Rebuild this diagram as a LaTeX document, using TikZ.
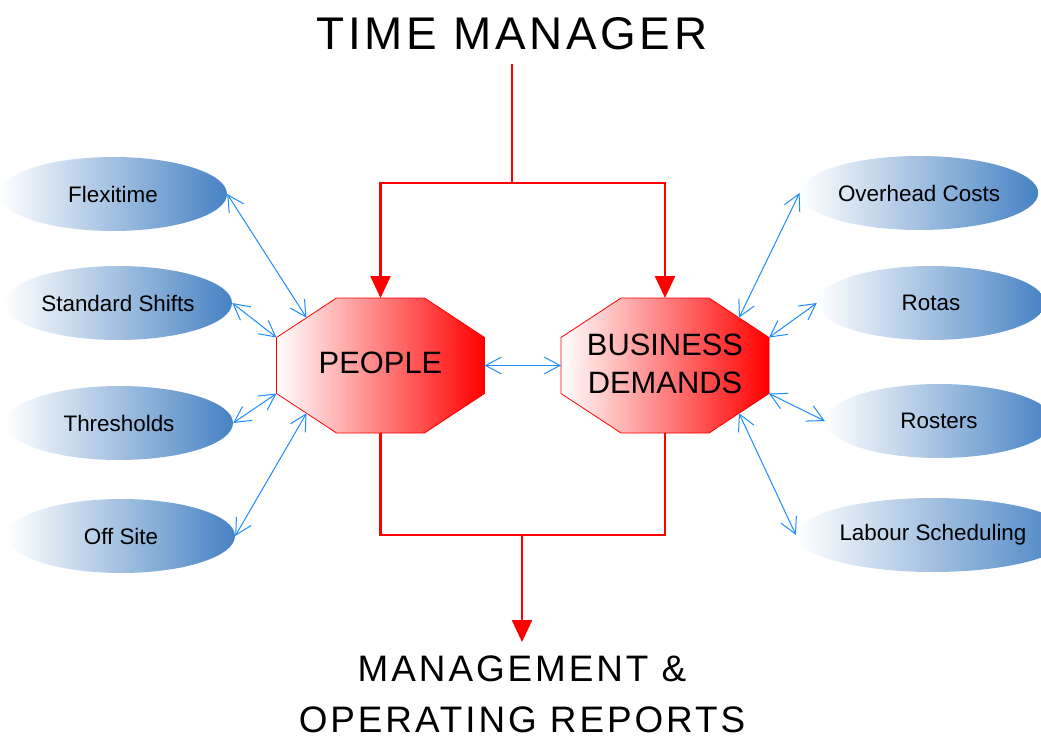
\documentclass[tikz,border=0pt]{standalone}
\usepackage{fontspec}
\setmainfont{Liberation Sans}
\newfontfamily\capsfont[LetterSpace=8]{Liberation Sans}
\usetikzlibrary{calc,shapes.geometric,arrows.meta}
\definecolor{ellblue}{RGB}{70,130,195}
\definecolor{linkblue}{RGB}{30,140,255}

\begin{document}
\begin{tikzpicture}[x=1bp,y=-1bp,
  redline/.style={red,line width=2.5bp,line join=miter},
  feed/.style={redline,-{Triangle[length=22bp,width=20bp]}},
  link/.style={linkblue,line width=1bp,{Straight Barb[length=16bp,width=17bp]}-{Straight Barb[length=16bp,width=17bp]}},
  topic/.style={ellipse,minimum width=228bp,minimum height=74bp,left color=white,right color=ellblue,font=\fontsize{22.5}{27}\selectfont},
  octo/.style={font=\fontsize{31}{38}\selectfont,align=center},
  banner/.style={font=\capsfont\fontsize{46}{52}\selectfont,inner sep=14bp,align=center}]
\useasboundingbox (0,0) rectangle (1041,738);
\def\OW{104};\def\OH{67.5};\def\OT{44};\def\OS{28};
\foreach \o/\cx in {pe/380.5,bd/665}{
\begin{scope}[shift={(\cx,365.5)}]
\shadedraw[draw=red,line width=.8bp,left color=white,middle color=red!45,right color=red]
  (-\OT,-\OH)--(\OT,-\OH)--(\OW,-\OS)--(\OW,\OS)--(\OT,\OH)--(-\OT,\OH)--(-\OW,\OS)--(-\OW,-\OS)--cycle;
\coordinate (\o-n) at (0,-\OH);
\coordinate (\o-s) at (0,\OH);
\coordinate (\o-e) at (\OW,0);
\coordinate (\o-w) at (-\OW,0);
\coordinate (\o-en) at (\OW,-\OS);
\coordinate (\o-es) at (\OW,\OS);
\coordinate (\o-wn) at (-\OW,-\OS);
\coordinate (\o-ws) at (-\OW,\OS);
\coordinate (\o-ne) at ($(\OT,-\OH)!.5!(\OW,-\OS)$);
\coordinate (\o-nw) at ($(-\OT,-\OH)!.5!(-\OW,-\OS)$);
\coordinate (\o-se) at ($(\OT,\OH)!.5!(\OW,\OS)$);
\coordinate (\o-sw) at ($(-\OT,\OH)!.5!(-\OW,\OS)$);
\end{scope}}
\node[octo] (people) at (380.5,363) {PEOPLE};
\node[octo] (business) at (665,364) {BUSINESS\\DEMANDS};

\node[topic] (flexi) at (113,194) {Flexitime};
\node[topic] (shifts) at (118,303) {Standard Shifts};
\node[topic] (thresh) at (119,423) {Thresholds};
\node[topic] (offsite) at (121,536) {Off Site};
\node[topic] (overhead) at (919,193) {Overhead Costs};
\node[topic] (rotas) at (931,303) {Rotas};
\node[topic] (rosters) at (939,421) {Rosters};
\node[topic] (labour) at (933,535) {Labour Scheduling};

\draw[link] (flexi.east) -- (pe-nw);
\draw[link] (shifts.east) -- (pe-wn);
\draw[link] (thresh.east) -- (pe-ws);
\draw[link] (offsite.east) -- (pe-sw);
\draw[link] (pe-e) -- (bd-w);
\draw[link] (bd-ne) -- (overhead.west);
\draw[link] (bd-en) -- (rotas.west);
\draw[link] (bd-es) -- (rosters.west);
\draw[link] (bd-se) -- (labour.west);

\node[banner] (tm) at (512,34) {TIME MANAGER};
\coordinate (split) at (512,183);
\draw[redline] (tm.south) -- (split);
\draw[feed] (split) -| (pe-n);
\draw[feed] (split) -| (bd-n);

\coordinate (join) at (522,535);
\draw[redline] (pe-s) |- (join) -| (bd-s);
\node[banner,font=\capsfont\fontsize{37}{51}\selectfont,anchor=north] (reports) at (522,642) {MANAGEMENT \&\\OPERATING REPORTS};
\draw[feed] (join) -- (reports.north);
\end{tikzpicture}
\end{document}
